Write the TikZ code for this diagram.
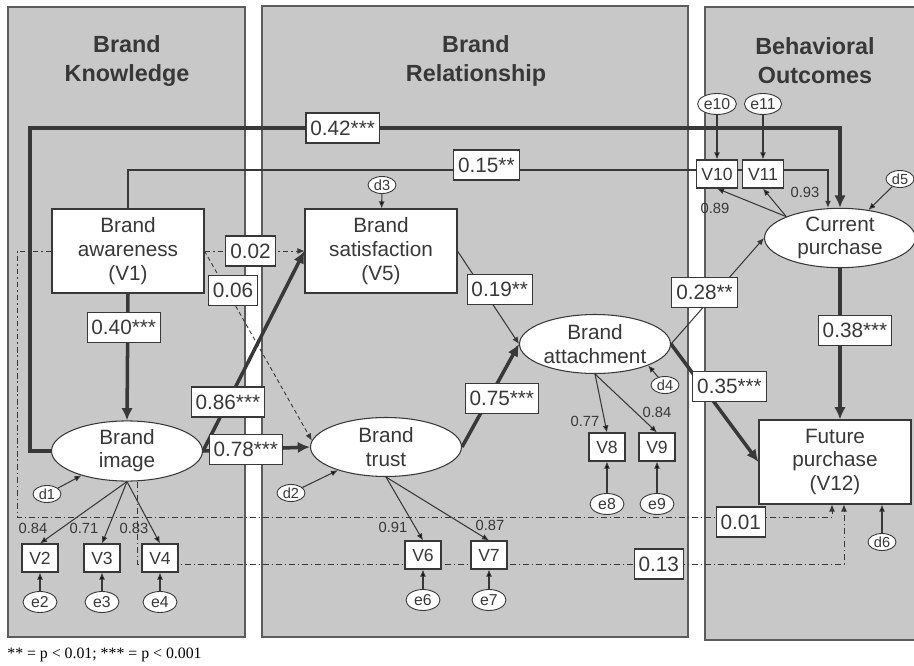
\documentclass[tikz,border=0pt]{standalone}
\usepackage{fontspec}
\setmainfont{Liberation Sans}
\newfontfamily\keyfont{Liberation Serif}
\usetikzlibrary{arrows.meta,shapes.geometric}
\definecolor{ink}{HTML}{383838}
\definecolor{panelgray}{HTML}{C8C8C8}
\definecolor{paneledge}{HTML}{5C5C5C}
\pgfdeclarelayer{panels}
\pgfdeclarelayer{wires}
\pgfsetlayers{panels,wires,main}
\tikzset{ %line width = .6pt,
  >=latex,
  panel/.style = {fill=panelgray, draw=paneledge, line width=.6pt},
  heading/.style = {align=center, text=ink,
                  font=\fontsize{13.3}{16.4}\selectfont\bfseries},
  factor/.style = {ellipse, draw=ink, fill=white, line width=.6pt,
                  inner sep=0, minimum width=3.02cm, minimum height=1.18cm,
                  align=center, text=ink, font=\fontsize{11.8}{13.2}\selectfont},
  observed/.style = {rectangle, draw=ink, fill=white, line width=.6pt,
                  minimum width=3.04cm, minimum height=1.68cm,
                  align=center, text=ink, font=\fontsize{11.8}{13.6}\selectfont},
  item/.style = {rectangle, draw=ink, fill=white, line width=.6pt,
                  inner xsep=3pt, minimum width=.72cm, minimum height=.56cm,
                  text=ink, font=\fontsize{10}{12}\selectfont},
  resid/.style = {ellipse, draw=ink, fill=white, line width=.5pt,
                  inner sep=.3pt, minimum width=.68cm, minimum height=.42cm,
                  text=ink, font=\fontsize{9}{10}\selectfont},
  dist/.style = {resid, minimum width=.56cm, minimum height=.34cm,
                  font=\fontsize{8.3}{9}\selectfont},
  coef/.style = {rectangle, draw=ink, fill=white, solid, line width=.6pt,
                  inner xsep=2.5pt, inner ysep=0, minimum height=.6cm,
                  text=ink, font=\fontsize{11.8}{13}\selectfont},
  load/.style = {inner sep=0, text=ink, font=\fontsize{8.4}{9}\selectfont},
  strong/.style = {draw=ink, line width=2pt, >={Latex[length=7pt,width=6.5pt]}},
  weak/.style = {draw=ink, line width=.6pt, >={Latex[length=4pt,width=3.4pt]}},
  nonsig/.style = {weak, line width=.5pt,
                  dash pattern=on 3.4pt off 1.7pt on .6pt off 1.7pt},
  slight/.style = {weak, line width=.5pt, dash pattern=on 2.3pt off 1.7pt},
 }

\begin{document}
\begin{tikzpicture}[x=.02cm, y=-.02cm]
\useasboundingbox (0,0) rectangle (914,666);
\begin{pgfonlayer}{panels}
\draw[panel] (8,7) rectangle (245,637);
\draw[panel] (262,6) rectangle (688,637);
\draw[panel] (705,7) rectangle (930,640);
\end{pgfonlayer}
\node[heading] (hknow) at (127,61) {Brand\\Knowledge};
\node[heading] (hrel) at (476,61) {Brand\\Relationship};
\node[heading] (hbeh) at (815,61) {Behavioral\\Outcomes};
% constructs
\node[observed] (aware) at (128,251) {Brand\\awareness\\(V1)};
\node[observed] (satis) at (381,251) {Brand\\satisfaction\\(V5)};
\node[observed] (fut) at (835,462) {Future\\purchase\\(V12)};
\node[factor] (img) at (127,451) {Brand\\image};
\node[factor] (trust) at (386,447) {Brand\\trust};
\node[factor] (attach) at (595,344) {Brand\\attachment};
\node[factor] (cur) at (840,238) {Current\\purchase};
% indicators
\node[item] (v2) at (40,558) {V2};
\node[item] (v3) at (102,558) {V3};
\node[item] (v4) at (160,558) {V4};
\node[item] (v6) at (423,555) {V6};
\node[item] (v7) at (489,555) {V7};
\node[item] (v8) at (607,447) {V8};
\node[item] (v9) at (657,447) {V9};
\node[item] (v10) at (717,174) {V10};
\node[item] (v11) at (763,174) {V11};
\node[resid] (e2) at (40,602) {e2};
\node[resid] (e3) at (102,602) {e3};
\node[resid] (e4) at (160,602) {e4};
\node[resid] (e6) at (423,600) {e6};
\node[resid] (e7) at (489,600) {e7};
\node[resid] (e8) at (607,504) {e8};
\node[resid] (e9) at (657,504) {e9};
\node[resid] (e10) at (717,104) {e10};
\node[resid] (e11) at (763,104) {e11};
\node[dist] (d1) at (47,494) {d1};
\node[dist] (d2) at (291,493) {d2};
\node[dist] (d3) at (382,185) {d3};
\node[dist] (d4) at (665,385) {d4};
\node[dist] (d5) at (900,179) {d5};
\node[dist] (d6) at (882,542) {d6};
\node[load] (l2) at (33,528) {0.84};
\node[load] (l3) at (84,528) {0.71};
\node[load] (l4) at (134,528) {0.83};
\node[load] (l6) at (393,527) {0.91};
\node[load] (l7) at (490,525) {0.87};
\node[load] (l8) at (585,421) {0.77};
\node[load] (l9) at (657,412) {0.84};
\node[load] (l10) at (715,208) {0.89};
\node[load] (l11) at (805,192) {0.93};
\node[anchor=west, inner sep=0, font={\keyfont\fontsize{9}{10}\selectfont}]
  (key) at (7,655) {** = p < 0.01; *** = p < 0.001};
\coordinate (k42) at (30,128);
\coordinate (k15) at (828,170);
\coordinate (k01) at (17,517);
\coordinate (k13) at (137,564);

\begin{pgfonlayer}{wires}
\draw[strong,->] (img.west) -| (k42) -- node[coef,pos=.386]{0.42***}
      (k42 -| cur.north) -- (cur.north);
\draw[weak,->] (aware.north) |- node[coef,pos=.756,yshift=.1cm]{0.15**} (k15)
      -- (k15 |- cur.north);
\draw[strong,->] (aware.south) -- node[coef,pos=.27,xshift=-.08cm]{0.40***} (img.north);
\draw[strong,->] (img.east) -- node[coef,pos=.245]{0.86***} (satis.west);
\draw[strong,->] (img.east) -- node[coef,pos=.4]{0.78***} (trust.west);
\draw[weak,->] (satis.east) -- node[coef,pos=.41,xshift=.34cm]{0.19**} (attach.west);
\draw[strong,->] (trust.east) -- node[coef,pos=.47,xshift=.26cm]{0.75***} (attach.west);
\draw[weak,->] (attach.east) -- node[coef,pos=.49,xshift=-.24cm]{0.28**} (cur.west);
\draw[strong,->] (attach.east) -- node[coef,pos=.36,xshift=.54cm]{0.35***} (fut.west);
\draw[strong,->] (cur.south) -- node[coef,pos=.41,xshift=.3cm]{0.38***}
      (cur.south |- fut.north);
\draw[nonsig,->] (aware.east) -- node[coef,pos=.46]{0.02} (satis.west);
\draw[slight,->] (aware.east) -- node[coef,pos=.21,xshift=.12cm]{0.06} (trust.175);
\draw[nonsig,->] (aware.west) -| (k01) -| node[coef,pos=.444,yshift=-.1cm]{0.01}
      ([xshift=-.06cm]fut.south);
\draw[nonsig,->] (k13 |- img.south) -- (k13) -| node[coef,pos=.369]{0.13}
      ([xshift=.18cm]fut.south);
\path[weak,->] (img.south) edge (v2.north) edge (v3.north) edge (v4.north)
        (trust.south) edge (v6.north) edge (v7.north)
        (attach.south) edge (v8.north) edge (v9.north)
        (cur.north west) edge (v10.south) edge (v11.south)
        (e2) edge (v2) (e3) edge (v3) (e4) edge (v4)
        (e6) edge (v6) (e7) edge (v7) (e8) edge (v8) (e9) edge (v9)
        (e10) edge (v10) (e11) edge (v11)
        (d1) edge (img) (d2) edge (trust) (d3) edge (satis)
        (d4) edge (attach.-22) (d5) edge (cur) (d6) edge (d6 |- fut.south)
        ;
\end{pgfonlayer}
\end{tikzpicture}
\end{document}
